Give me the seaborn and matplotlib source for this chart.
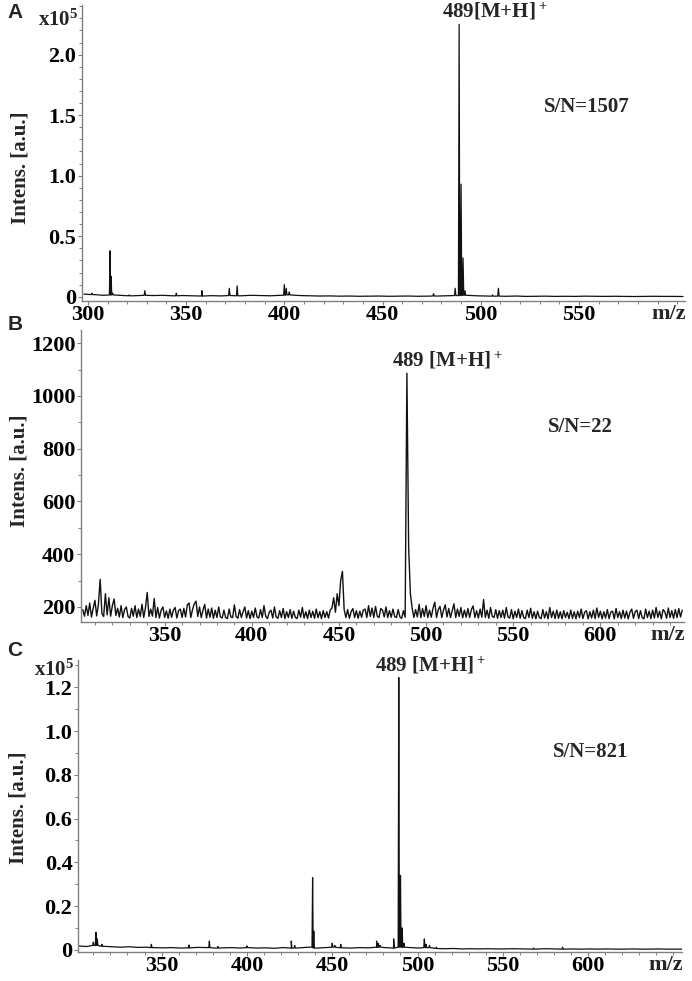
import numpy as np
import matplotlib
matplotlib.use('Agg')
import matplotlib.pyplot as plt
import seaborn as sns
from matplotlib.ticker import MultipleLocator

# ---- panel A (x10^5) ----
a_base_mz = np.arange(298, 604, 5)
a_base = [0.022, 0.018, 0.012, 0.015, 0.010, 0.008, 0.012, 0.010, 0.012, 0.008,
          0.010, 0.008, 0.006, 0.009, 0.007, 0.010, 0.008, 0.012, 0.010, 0.008,
          0.012, 0.015, 0.010, 0.008, 0.006, 0.007, 0.005, 0.006, 0.004, 0.005,
          0.006, 0.004, 0.005, 0.006, 0.004, 0.005, 0.006, 0.008, 0.010, 0.012,
          0.008, 0.006, 0.005, 0.004, 0.006, 0.003, 0.004, 0.005, 0.003, 0.004,
          0.003, 0.005, 0.004, 0.003, 0.004, 0.003, 0.002, 0.003, 0.004, 0.003,
          0.003, 0.002]
a_peak_mz = [302, 311.3, 311.8, 312.6, 321, 329, 333, 345, 358, 372, 376, 400, 401,
             402.5, 476, 487, 489, 490, 491, 492, 506, 509]
a_peak_h = [0.03, 0.38, 0.17, 0.03, 0.015, 0.05, 0.012, 0.03, 0.05, 0.07, 0.09, 0.10,
            0.07, 0.04, 0.025, 0.07, 2.25, 0.93, 0.32, 0.05, 0.015, 0.07]

# ---- panel B (raw counts, noisy), one value per m/z unit from 303 ----
b_start = 303
b_int = [190, 165, 205, 168, 215, 162, 195, 225, 166, 210, 305, 175, 164, 250, 170, 235, 165, 205, 230, 168,
         195, 162, 205, 160, 190, 200, 164, 158, 195, 165, 205, 160, 192, 164, 210, 160, 198, 255, 164, 192,
         165, 232, 160, 198, 158, 188, 200, 160, 185, 157, 192, 161, 188, 198, 158, 186, 192, 160, 195, 162,
         208, 215, 160, 190, 212, 222, 164, 200, 160, 188, 210, 158, 192, 161, 196, 157, 188, 160, 200, 162,
         158, 188, 160, 156, 192, 162, 160, 208, 164, 157, 190, 160, 182, 200, 158, 186, 156, 184, 160, 196,
         162, 158, 190, 160, 205, 164, 156, 180, 188, 158, 200, 162, 157, 186, 160, 194, 156, 182, 160, 190,
         157, 184, 160, 156, 188, 161, 198, 158, 182, 156, 188, 160, 184, 157, 192, 159, 182, 156, 186, 160,
         182, 158, 188, 196, 235, 180, 250, 205, 300, 335, 190, 160, 190, 157, 182, 194, 160, 186, 157, 184,
         161, 188, 192, 160, 205, 164, 196, 160, 202, 165, 160, 194, 188, 162, 200, 160, 186, 161, 192, 164,
         160, 190, 162, 157, 186, 161, 1086, 427, 250, 196, 160, 190, 162, 210, 160, 194, 164, 205, 160, 188,
         161, 196, 218, 160, 190, 202, 160, 188, 208, 162, 194, 160, 186, 212, 160, 192, 164, 198, 159, 188,
         161, 194, 160, 190, 204, 160, 186, 158, 192, 161, 228, 160, 188, 157, 198, 164, 160, 190, 157, 186,
         160, 188, 157, 198, 162, 158, 190, 155, 184, 160, 192, 157, 186, 160, 156, 188, 160, 195, 157, 182,
         155, 184, 160, 156, 190, 158, 182, 155, 198, 160, 184, 156, 188, 157, 182, 155, 186, 160, 180, 156,
         188, 157, 182, 155, 184, 160, 192, 156, 180, 186, 155, 182, 158, 188, 156, 196, 160, 184, 155, 182,
         158, 190, 156, 180, 184, 155, 194, 160, 182, 156, 188, 158, 184, 155, 180, 192, 157, 182, 188, 156,
         186, 160, 155, 192, 160, 184, 156, 188, 158, 198, 160, 184, 155, 190, 182, 157, 196, 160, 186, 157,
         190, 160, 194, 162, 188]

# ---- panel C (x10^5) ----
c_base_mz = np.arange(301, 657, 5)
c_base = [0.018, 0.015, 0.020, 0.016, 0.014, 0.012, 0.014, 0.011, 0.012, 0.010,
          0.009, 0.010, 0.008, 0.009, 0.011, 0.010, 0.008, 0.009, 0.010, 0.008,
          0.010, 0.008, 0.009, 0.007, 0.010, 0.008, 0.009, 0.012, 0.008, 0.010,
          0.012, 0.009, 0.008, 0.010, 0.009, 0.012, 0.010, 0.008, 0.012, 0.010,
          0.008, 0.010, 0.006, 0.005, 0.006, 0.004, 0.005, 0.004, 0.005, 0.004,
          0.004, 0.005, 0.004, 0.003, 0.004, 0.005, 0.004, 0.003, 0.004, 0.003,
          0.004, 0.003, 0.004, 0.003, 0.003, 0.004, 0.003, 0.003, 0.004, 0.003,
          0.003, 0.003]
c_peak_mz = [310, 311.5, 312.3, 315, 344, 366, 378, 383, 400, 426, 428, 438.5, 439.2,
             450, 451.5, 455, 476, 477, 478, 486, 489, 490, 491, 492, 504, 505, 507,
             511, 568, 585]
c_peak_h = [0.035, 0.08, 0.05, 0.025, 0.025, 0.022, 0.04, 0.015, 0.018, 0.04, 0.02,
            0.33, 0.085, 0.03, 0.02, 0.025, 0.04, 0.03, 0.02, 0.05, 1.245, 0.34, 0.10,
            0.03, 0.05, 0.025, 0.02, 0.012, 0.008, 0.012]


def build_profile(base_mz, base, peak_mz, peak_h, half=0.35):
    # baseline samples plus a narrow triangle for every peak
    base_mz = np.asarray(base_mz, dtype=float)
    xs, ys = list(base_mz), list(base)
    for m, h in zip(peak_mz, peak_h):
        foot = base[int(np.argmin(np.abs(base_mz - m)))]
        xs += [m - half, m, m + half]
        ys += [foot, h, foot]
    order = np.argsort(xs, kind='stable')
    return np.asarray(xs)[order], np.asarray(ys)[order]


sns.set_style("ticks")
plt.rcParams['font.family'] = ['Liberation Serif', 'DejaVu Serif']
plt.rcParams['font.weight'] = 'bold'
plt.rcParams['mathtext.fontset'] = 'custom'
plt.rcParams['mathtext.rm'] = 'Liberation Serif:bold'
plt.rcParams['mathtext.bf'] = 'Liberation Serif:bold'
plt.rcParams['mathtext.default'] = 'bf'

W, H = 692, 981
fig = plt.figure(figsize=(W / 100, H / 100), dpi=100)


def px_axes(left, top, right, bottom):
    return fig.add_axes([left / W, 1 - bottom / H, (right - left) / W, (bottom - top) / H])


axA = px_axes(82, 5, 685, 301)
axB = px_axes(81, 330, 684, 622)
axC = px_axes(78, 660, 682, 952)

line_kw = dict(color='#111111', linewidth=0.9, estimator=None, sort=False)

xa, ya = build_profile(a_base_mz, a_base, a_peak_mz, a_peak_h)
sns.lineplot(x=xa, y=ya, ax=axA, **line_kw)

xb = b_start + np.arange(len(b_int))
sns.lineplot(x=xb, y=b_int, ax=axB, color='#111111', linewidth=1.0, estimator=None, sort=False)

xc, yc = build_profile(c_base_mz, c_base, c_peak_mz, c_peak_h)
sns.lineplot(x=xc, y=yc, ax=axC, **line_kw)

axA.set_xlim(297, 604)
axA.set_ylim(-0.035, 2.41)
axA.set_xticks([300, 350, 400, 450, 500, 550])
axA.set_yticks([0, 0.5, 1.0, 1.5, 2.0])
axA.set_yticklabels(['0', '0.5', '1.0', '1.5', '2.0'])
axA.yaxis.set_minor_locator(MultipleLocator(0.1))

axB.set_xlim(302, 648)
axB.set_ylim(143, 1250)
axB.set_xticks([350, 400, 450, 500, 550, 600])
axB.set_yticks([200, 400, 600, 800, 1000, 1200])
axB.yaxis.set_minor_locator(MultipleLocator(100))

axC.set_xlim(301, 655)
axC.set_ylim(-0.01, 1.325)
axC.set_xticks([350, 400, 450, 500, 550, 600])
axC.set_yticks([0, 0.2, 0.4, 0.6, 0.8, 1.0, 1.2])
axC.set_yticklabels(['0', '0.2', '0.4', '0.6', '0.8', '1.0', '1.2'])
axC.yaxis.set_minor_locator(MultipleLocator(0.1))

grey = '#808080'
for ax in (axA, axB, axC):
    ax.xaxis.set_minor_locator(MultipleLocator(10))
    for s in ('top', 'right'):
        ax.spines[s].set_visible(False)
    for s in ('left', 'bottom'):
        ax.spines[s].set_color(grey)
        ax.spines[s].set_linewidth(1.0)
    ax.tick_params(which='major', direction='out', length=3, width=0.8, color=grey,
                   labelsize=16, labelcolor='black')
    ax.tick_params(which='minor', direction='out', length=2, width=0.7, color=grey)
    ax.tick_params(axis='x', pad=0)
    ax.tick_params(axis='y', pad=1)
    for lab in ax.get_xticklabels() + ax.get_yticklabels():
        lab.set_fontweight('bold')
    ax.set_xlabel('')
    ax.set_ylabel('Intens. [a.u.]', fontsize=15, fontweight='bold')
    ax.annotate('m/z', xy=(0.973, 0), xycoords='axes fraction', xytext=(0, -2.2),
                textcoords='offset points', ha='center', va='top', fontsize=16,
                fontweight='bold')

axA.yaxis.set_label_coords(-0.086, 0.449)
axB.yaxis.set_label_coords(-0.086, 0.517)
axC.yaxis.set_label_coords(-0.082, 0.493)

# exponent labels
axA.annotate(r'x10$^5$', xy=(0, 1), xycoords='axes fraction', xytext=(-3, -3),
             textcoords='offset points', ha='right', va='top', fontsize=15)
axC.annotate(r'x10$^5$', xy=(0, 1), xycoords='axes fraction', xytext=(-3, 0),
             textcoords='offset points', ha='right', va='top', fontsize=15)

# peak labels
axA.annotate(r'489[M+H]$^+$', xy=(489, 2.25), xytext=(-12, 1), textcoords='offset points',
             ha='left', va='bottom', fontsize=15, annotation_clip=False)
axB.annotate(r'489 [M+H]$^+$', xy=(489, 1086), xytext=(-11, 1), textcoords='offset points',
             ha='left', va='bottom', fontsize=15, annotation_clip=False)
axC.annotate(r'489 [M+H]$^+$', xy=(489, 1.245), xytext=(-17, 1), textcoords='offset points',
             ha='left', va='bottom', fontsize=15, annotation_clip=False)

# signal-to-noise text
axA.text(0.837, 0.655, 'S/N=1507', transform=axA.transAxes, ha='center', va='center', fontsize=15)
axB.text(0.828, 0.668, 'S/N=22', transform=axB.transAxes, ha='center', va='center', fontsize=15)
axC.text(0.849, 0.685, 'S/N=821', transform=axC.transAxes, ha='center', va='center', fontsize=15)

# panel letters
for letter, ypx in (('A', 13), ('B', 324), ('C', 650)):
    fig.text(15 / W, 1 - ypx / H, letter, ha='center', va='center', fontsize=15,
             fontweight='bold', family=['Liberation Sans', 'DejaVu Sans'])

fig.savefig('out.png', dpi=100)
